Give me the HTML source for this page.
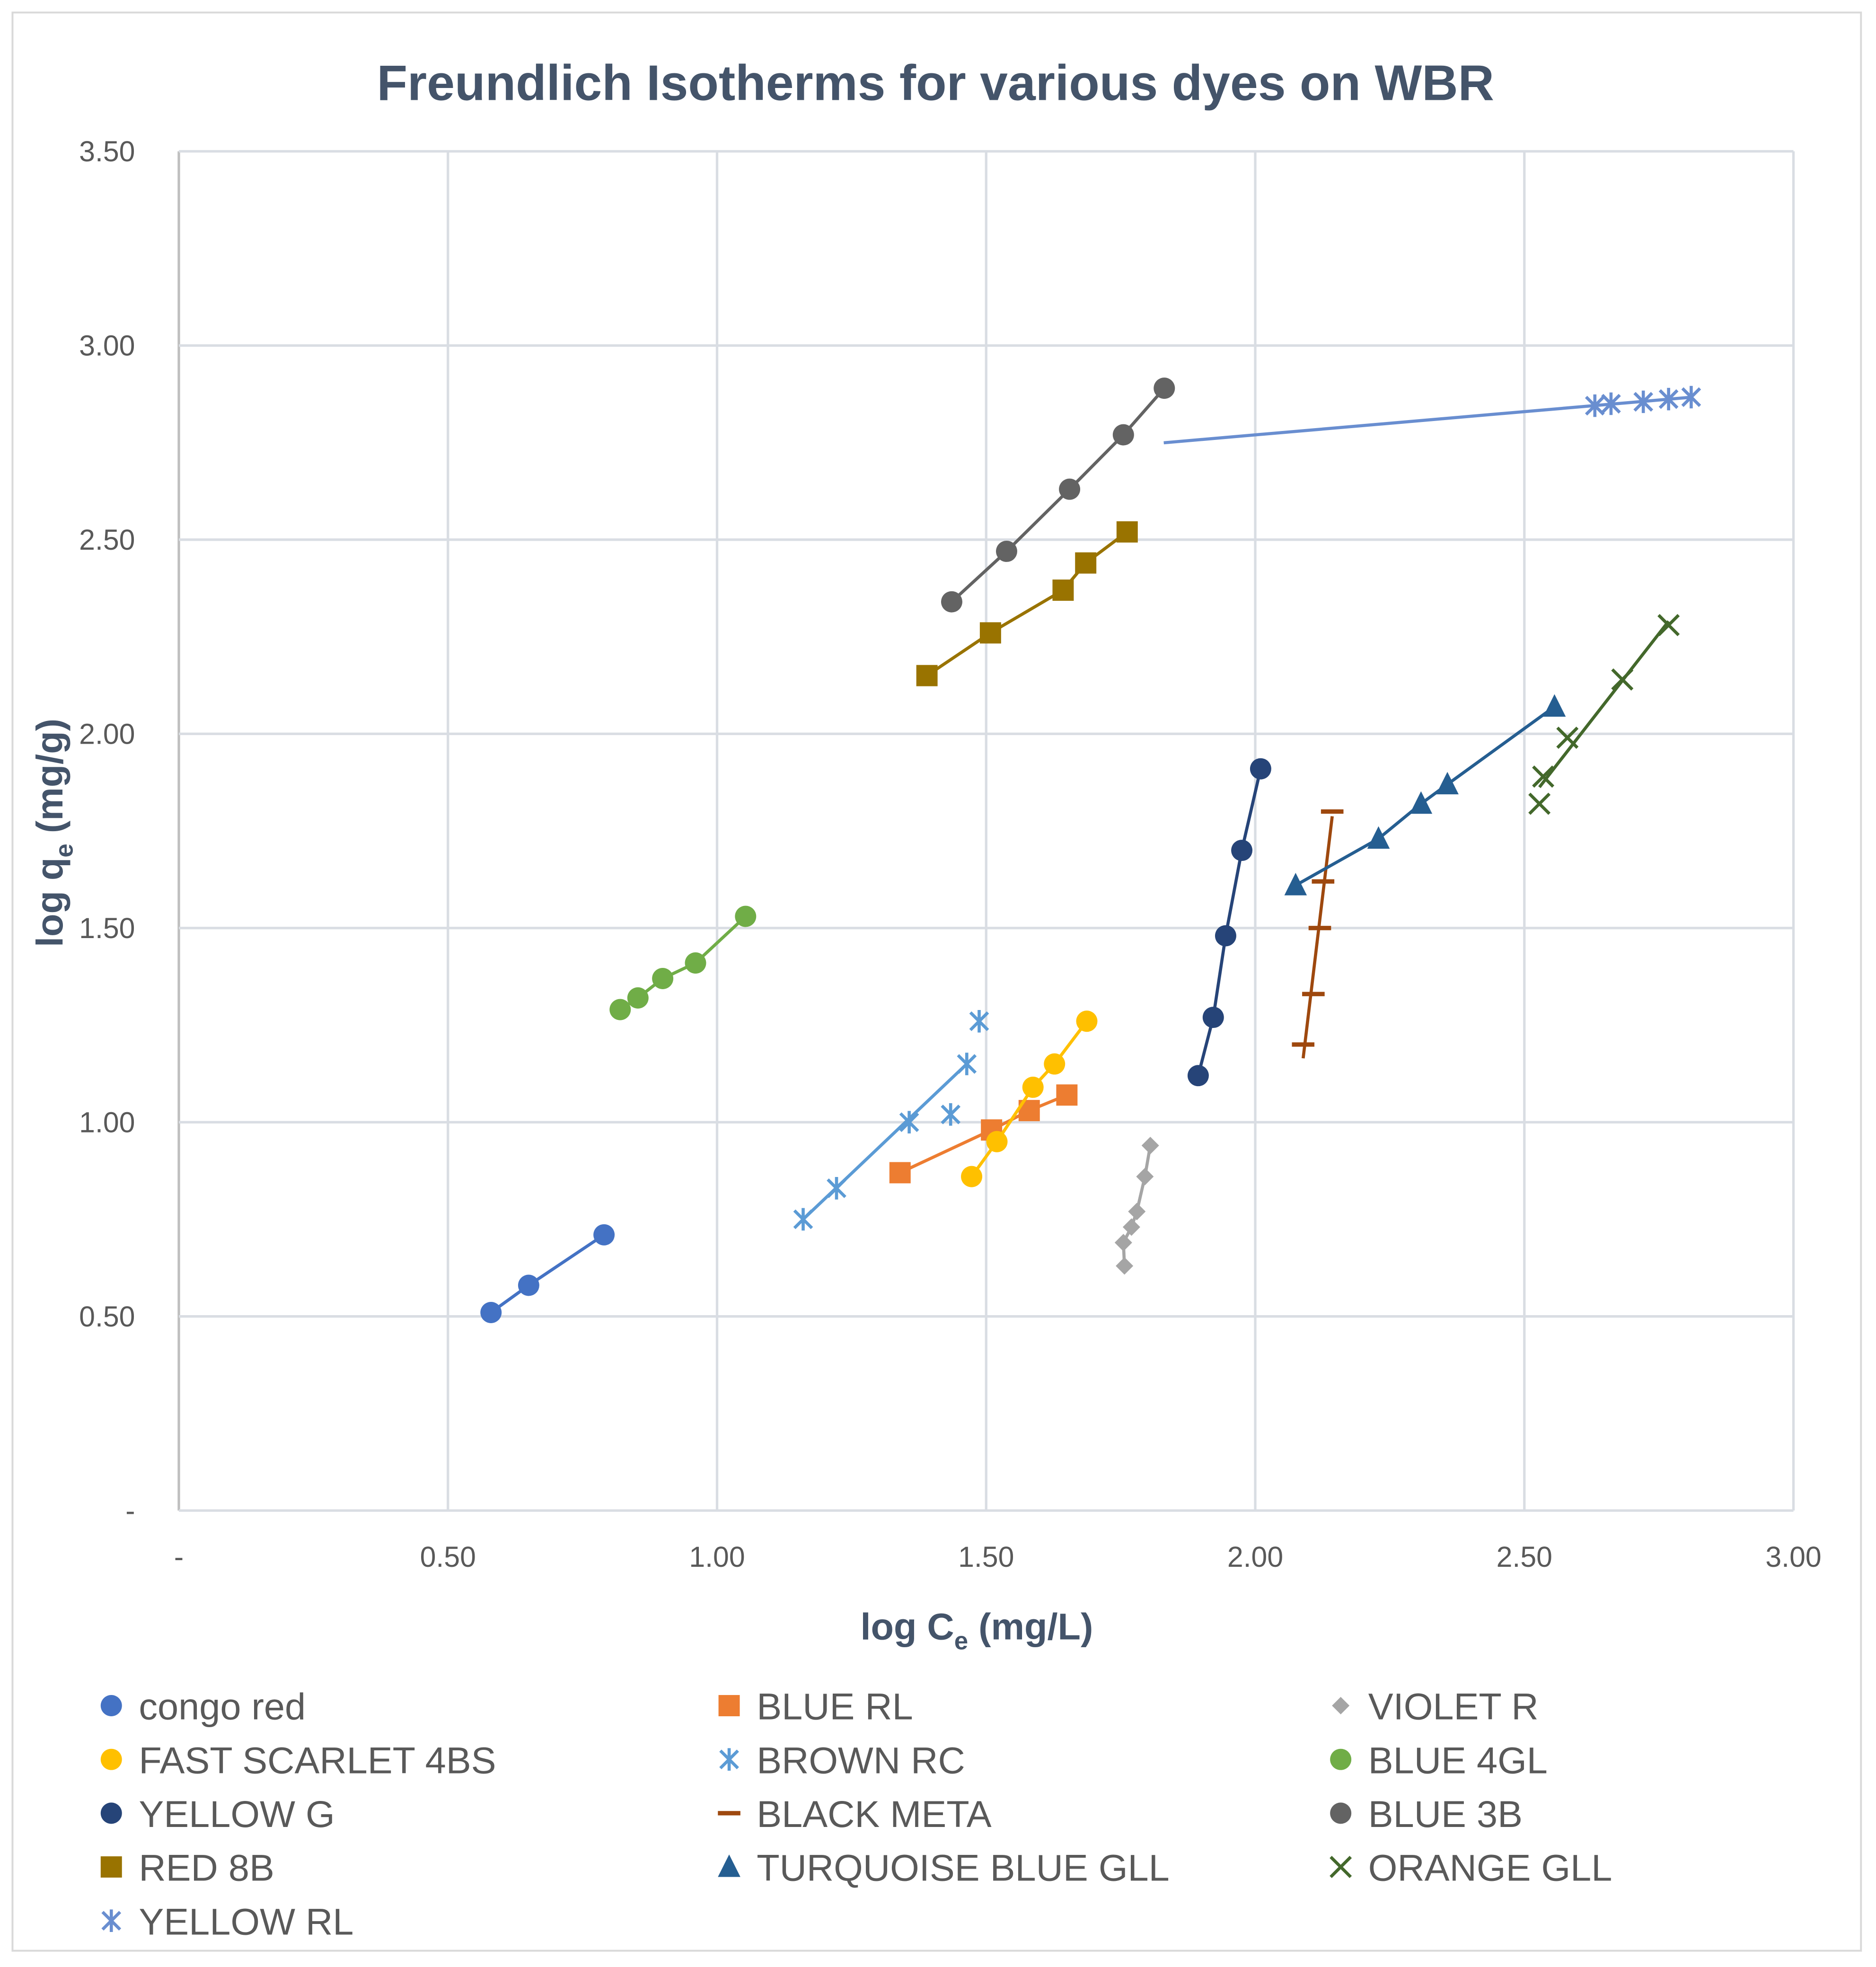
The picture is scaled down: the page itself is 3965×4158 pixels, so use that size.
<!DOCTYPE html>
<html><head><meta charset="utf-8"><style>
html,body{margin:0;padding:0;background:#fff}
svg{display:block}
text{font-family:"Liberation Sans",sans-serif}
</style></head><body>
<svg id="chart" width="3965" height="4158" viewBox="0 0 1500 1573" xmlns="http://www.w3.org/2000/svg">
<rect x="0" y="0" width="1500" height="1573" fill="#fff"/>
<rect x="10" y="10" width="1478" height="1550" fill="none" stroke="#d9d9d9" stroke-width="1.5"/>
<text x="748" y="80" text-anchor="middle" font-size="40" font-weight="bold" fill="#44546A">Freundlich Isotherms for various dyes on WBR</text>
<g id="grid"></g>
<g id="ticks"></g>
<text x="781" y="1311" text-anchor="middle" font-size="30" font-weight="bold" fill="#44546A">log C<tspan font-size="20" dy="8">e</tspan><tspan dy="-8"> (mg/L)</tspan></text>
<text transform="translate(50,666) rotate(-90)" text-anchor="middle" font-size="30" font-weight="bold" fill="#44546A">log q<tspan font-size="20" dy="8">e</tspan><tspan dy="-8"> (mg/g)</tspan></text>
<g id="series"></g>
<g id="legend"></g>
</svg>
<script>
const xTicks=[0,0.5,1,1.5,2,2.5,3];
const xTickLabels=["-","0.50","1.00","1.50","2.00","2.50","3.00"];
const yTicks=[0,0.5,1,1.5,2,2.5,3,3.5];
const yTickLabels=["-","0.50","1.00","1.50","2.00","2.50","3.00","3.50"];
const seriesNames=["congo red","BLUE RL","VIOLET R","FAST SCARLET 4BS","BROWN RC","BLUE 4GL","YELLOW G","BLACK META","BLUE 3B","RED 8B","TURQUOISE BLUE GLL","ORANGE GLL","YELLOW RL"];
const congoX=[0.58,0.65,0.79], congoY=[0.51,0.58,0.71];
const blueRLX=[1.34,1.51,1.58,1.65], blueRLY=[0.87,0.98,1.03,1.07];
const violetX=[1.757,1.755,1.77,1.78,1.795,1.805], violetY=[0.63,0.69,0.73,0.77,0.86,0.94];
const scarletX=[1.473,1.52,1.587,1.627,1.687], scarletY=[0.86,0.95,1.09,1.15,1.26];
const brownX=[1.16,1.222,1.357,1.434,1.464,1.487], brownY=[0.75,0.83,1.00,1.02,1.15,1.26];
const blue4glX=[0.82,0.853,0.899,0.96,1.053], blue4glY=[1.29,1.32,1.37,1.41,1.53];
const yellowGX=[1.894,1.922,1.945,1.975,2.01], yellowGY=[1.12,1.27,1.48,1.70,1.91];
const blackX=[2.089,2.108,2.12,2.126,2.143], blackY=[1.20,1.33,1.50,1.62,1.80];
const blue3bX=[1.436,1.538,1.655,1.755,1.831], blue3bY=[2.34,2.47,2.63,2.77,2.89];
const red8bX=[1.39,1.508,1.643,1.685,1.762], red8bY=[2.15,2.26,2.37,2.44,2.52];
const turqX=[2.075,2.229,2.308,2.357,2.556], turqY=[1.61,1.73,1.82,1.87,2.07];
const orangeX=[2.528,2.535,2.58,2.682,2.768], orangeY=[1.82,1.89,1.99,2.14,2.28];
const yRLX=[2.631,2.661,2.721,2.768,2.81], yRLY=[2.845,2.85,2.855,2.862,2.867];
const yRLTrendStart=1.83;

const NS="http://www.w3.org/2000/svg";
const X0=143,X1=1434,Y0=1208,Y1=121;
function sx(v){return X0+(X1-X0)*v/3;}
function sy(v){return Y0-(Y0-Y1)*v/3.5;}
function mk(tag,attrs,parent){const e=document.createElementNS(NS,tag);for(const k in attrs)e.setAttribute(k,attrs[k]);parent.appendChild(e);return e;}
const grid=document.getElementById('grid'),ticks=document.getElementById('ticks');
xTicks.forEach((t,i)=>{
  const l=mk('line',{x1:sx(t),x2:sx(t),y1:Y1,y2:Y0,stroke:i==0?'#bfbfbf':'#d9dde3','stroke-width':2},grid);
  
  
  const tx=mk('text',{x:sx(t),y:1253,'text-anchor':'middle','font-size':23,fill:'#595959'},ticks);
  tx.textContent=xTickLabels[i];
  
  
});
yTicks.forEach((t,i)=>{
  const l=mk('line',{x1:X0,x2:X1,y1:sy(t),y2:sy(t),stroke:'#d9dde3','stroke-width':2},grid);
  
  
  const tx=mk('text',{x:108,y:sy(t)+8,'text-anchor':'end','font-size':23,fill:'#595959'},ticks);
  tx.textContent=yTickLabels[i];
  
  
});
function marker(g,type,x,y,c){
  let e;
  if(type=='circle')e=mk('circle',{cx:x,cy:y,r:8.5,fill:c},g);
  else if(type=='square')e=mk('rect',{x:x-8.5,y:y-8.5,width:17,height:17,fill:c},g);
  else if(type=='diamond')e=mk('polygon',{points:`${x},${y-7} ${x+7},${y} ${x},${y+7} ${x-7},${y}`,fill:c},g);
  else if(type=='triangle')e=mk('polygon',{points:`${x},${y-10} ${x+9},${y+8} ${x-9},${y+8}`,fill:c},g);
  else if(type=='x')e=mk('path',{d:`M${x-8},${y-8}L${x+8},${y+8}M${x-8},${y+8}L${x+8},${y-8}`,stroke:c,'stroke-width':2.5,fill:'none'},g);
  else if(type=='star')e=mk('path',{d:`M${x-7},${y-7}L${x+7},${y+7}M${x-7},${y+7}L${x+7},${y-7}M${x},${y-9}L${x},${y+9}`,stroke:c,'stroke-width':2.5,fill:'none'},g);
  else if(type=='dash')e=mk('path',{d:`M${x-9},${y}L${x+9},${y}`,stroke:c,'stroke-width':3.5,fill:'none'},g);
  return e;
}
function fit(xs,ys){const n=xs.length;let mx=0,my=0;xs.forEach((v,i)=>{mx+=v;my+=ys[i];});mx/=n;my/=n;let a=0,b=0;xs.forEach((v,i)=>{a+=(v-mx)*(ys[i]-my);b+=(v-mx)*(v-mx);});const m=a/b;return x=>my+m*(x-mx);}
const defs=[
 {xs:congoX,ys:congoY,c:'#4472C4',m:'circle',line:'poly'},
 {xs:blueRLX,ys:blueRLY,c:'#ED7D31',m:'square',line:'poly'},
 {xs:violetX,ys:violetY,c:'#A5A5A5',m:'diamond',line:'poly'},
 {xs:scarletX,ys:scarletY,c:'#FFC000',m:'circle',line:'poly'},
 {xs:brownX,ys:brownY,c:'#5B9BD5',m:'star',line:'first5'},
 {xs:blue4glX,ys:blue4glY,c:'#70AD47',m:'circle',line:'poly'},
 {xs:yellowGX,ys:yellowGY,c:'#264478',m:'circle',line:'poly'},
 {xs:blackX,ys:blackY,c:'#9E480E',m:'dash',line:'fit'},
 {xs:blue3bX,ys:blue3bY,c:'#636363',m:'circle',line:'poly'},
 {xs:red8bX,ys:red8bY,c:'#997300',m:'square',line:'poly'},
 {xs:turqX,ys:turqY,c:'#255E91',m:'triangle',line:'poly'},
 {xs:orangeX,ys:orangeY,c:'#43682B',m:'x',line:'fit'},
 {xs:yRLX,ys:yRLY,c:'#698ED0',m:'star',line:'fitext'}
];
const sg=document.getElementById('series');
defs.forEach((d,si)=>{
  const g=mk('g',{},sg);
  
  
  let pts;
  if(d.line=='poly')pts=d.xs.map((v,i)=>[v,d.ys[i]]);
  else if(d.line=='first5')pts=[[d.xs[0],d.ys[0]],[d.xs[4],d.ys[4]]];
  else{const f=fit(d.xs,d.ys);const lo=d.line=='fitext'?yRLTrendStart:Math.min(...d.xs);const hi=Math.max(...d.xs);pts=[[lo,f(lo)],[hi,f(hi)]];}
  const pl=mk('polyline',{points:pts.map(p=>sx(p[0])+','+sy(p[1])).join(' '),fill:'none',stroke:d.c,'stroke-width':2.5},g);
  
  
  d.xs.forEach((v,i)=>{
    const e=marker(g,d.m,sx(v),sy(d.ys[i]),d.c);
    
    
  });
});
const lg=document.getElementById('legend');
const colX=[89,583,1072],rowY=[1364,1407,1450,1493,1536];
defs.forEach((d,i)=>{
  const col=i%3,row=Math.floor(i/3);
  const g=mk('g',{},lg);
  
  
  marker(g,d.m,colX[col],rowY[row],d.c);
  const t=mk('text',{x:colX[col]+22,y:rowY[row]+11,'font-size':30,fill:'#595959'},g);
  t.textContent=seriesNames[i];
});
</script>
</body></html>
